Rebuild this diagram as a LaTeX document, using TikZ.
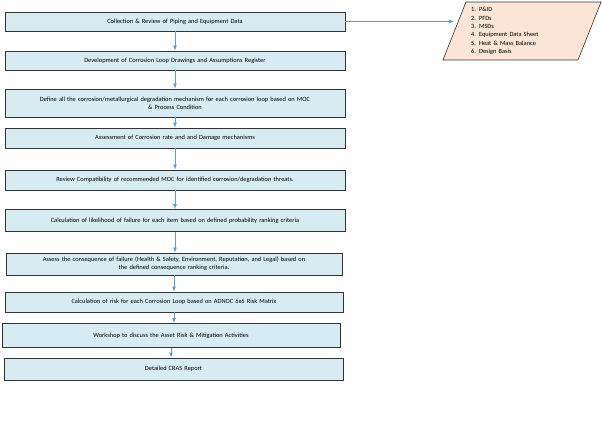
\documentclass[tikz,border=0pt]{standalone}
\usepackage{fontspec}
\setmainfont{Carlito}
\usetikzlibrary{shapes.geometric}
\definecolor{boxfill}{RGB}{214,236,242}
\definecolor{docfill}{RGB}{252,229,214}
\definecolor{flowblue}{RGB}{91,155,213}

\begin{document}
\begin{tikzpicture}[x=1pt,y=1pt]
\tikzset{stepbox/.style={draw=black!80,fill=boxfill,line width=0.6pt,minimum width=340pt,
  text width=334pt,align=center,font=\fontsize{6.4}{8}\selectfont,inner sep=1pt},
  flow/.style={draw=flowblue,line width=0.8pt,-latex}}
\useasboundingbox (0,0) rectangle (602,-432);
\node[stepbox,minimum height=19pt] (collect) at (175,-21.5) {Collection \& Review of Piping and Equipment Data};
\node[stepbox,minimum height=19pt] (loop) at (175,-60.5) {Development of Corrosion Loop Drawings and Assumptions Register};
\node[stepbox,minimum height=28pt] (define) at (175,-103) {Define all the corrosion/metallurgical degradation mechanism for each corrosion loop based on MOC\\ \& Process Condition};
\node[stepbox,minimum height=20pt] (rate) at (175,-138) {Assessment of Corrosion rate and and Damage mechanisms};
\node[stepbox,minimum height=20pt] (review) at (175,-180) {Review Compatibility of recommended MOC for identified corrosion/degradation threats.};
\node[stepbox,minimum height=22pt] (likely) at (175,-220.5) {Calculation of likelihood of failure for each item based on defined probability ranking criteria};
\node[stepbox,minimum height=22pt,minimum width=330pt] (conseq) at (174,-264) {Assess the consequence of failure (Health \& Safety, Environment, Reputation, and Legal) based on\\ the defined consequence ranking criteria.};
\node[stepbox,minimum height=20pt,minimum width=338pt] (risk) at (174,-302) {Calculation of risk for each Corrosion Loop based on ADNOC 6x6 Risk Matrix};
\node[stepbox,minimum height=24pt,minimum width=338pt] (workshop) at (171,-335.5) {Workshop to discuss the Asset Risk \& Mitigation Activities};
\node[stepbox,minimum height=22pt,minimum width=339pt] (report) at (173.5,-369) {Detailed CRAS Report};
\node[draw=black!80,fill=docfill,line width=0.6pt,trapezium,trapezium left angle=65,trapezium right angle=115,
  trapezium stretches=true,minimum width=157pt,minimum height=58pt,text width=110pt,align=left,
  font=\fontsize{6.4}{8.4}\selectfont,inner sep=1pt] (docs) at (522,-31)
  {\hspace*{4pt}1. P\&ID\\\hspace*{4pt}2. PFDs\\\hspace*{4pt}3. MSDs\\\hspace*{4pt}4. Equipment Data Sheet\\\hspace*{4pt}5. Heat \& Mass Balance\\\hspace*{4pt}6. Design Basis};
\draw[flow] (collect.east) -- (collect.east -| docs.west);
\foreach \a/\b in {collect/loop,loop/define,define/rate,rate/review,review/likely,likely/conseq,conseq/risk,risk/workshop,workshop/report}
  \draw[flow] (\a.south) -- (\a.south |- \b.north);
\end{tikzpicture}
\end{document}
